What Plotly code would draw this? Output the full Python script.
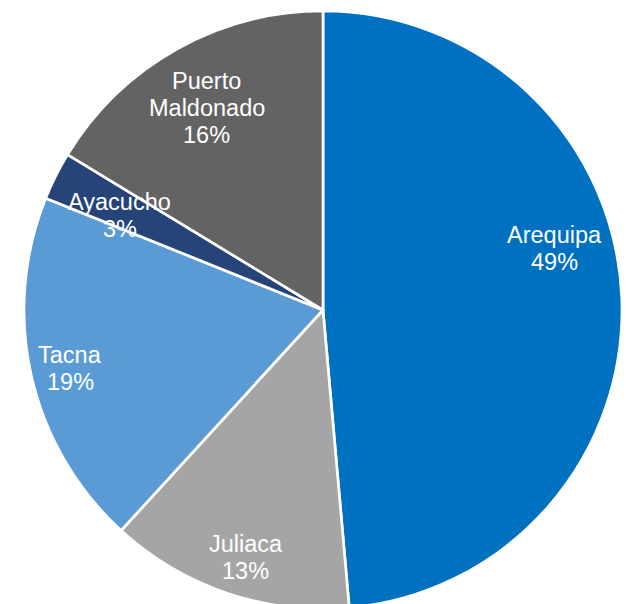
import math
import plotly.graph_objects as go

# Data
labels = ["Arequipa", "Juliaca", "Tacna", "Ayacucho", "Puerto Maldonado"]
label_lines = [["Arequipa"], ["Juliaca"], ["Tacna"], ["Ayacucho"], ["Puerto", "Maldonado"]]
values = [48.6, 13.2, 19.3, 2.6, 16.3]
colors = ["#0070C0", "#A5A5A5", "#5B9BD5", "#264478", "#636363"]

# label placement style (radius fraction, angle offset in degrees)
label_r = [0.80, 0.866, 0.868, 0.75, 0.78]
label_dtheta = [-12.4, -1.4, -0.3, -1.7, -0.5]

W, H = 631, 604
PAGE_OFF = 8  # default page body margin
R = 299
CX, CY = 323 - PAGE_OFF, 310 - PAGE_OFF  # pixel center within the figure

fig = go.Figure(go.Pie(
    labels=labels,
    values=values,
    sort=False,
    direction="clockwise",
    rotation=0,
    marker=dict(colors=colors, line=dict(color="white", width=2.7)),
    textinfo="none",
    hoverinfo="label+percent",
    showlegend=False,
    domain=dict(x=[(CX - R) / W, (CX + R) / W],
                y=[(H - CY - R) / H, (H - CY + R) / H]),
))

total = sum(values)
cum = 0
annotations = []
line_gap = 27
for lab_lines, v, rf, dth in zip(label_lines, values, label_r, label_dtheta):
    mid = (cum + v / 2) / total * 360 + dth
    cum += v
    th = math.radians(mid)
    px = CX + rf * R * math.sin(th)
    py = CY - rf * R * math.cos(th)
    lines = lab_lines + [f"{round(v / total * 100)}%"]
    n = len(lines)
    for i, t in enumerate(lines):
        ly = py + (i - (n - 1) / 2) * line_gap
        annotations.append(dict(
            x=px / W, y=1 - ly / H, xref="paper", yref="paper",
            text=t, showarrow=False, xanchor="center", yanchor="middle",
            font=dict(family="Liberation Sans, Arial, sans-serif", size=23.5, color="white"),
        ))

fig.update_layout(
    width=W, height=H,
    margin=dict(l=0, r=0, t=0, b=0),
    paper_bgcolor="white",
    plot_bgcolor="white",
    annotations=annotations,
)

fig.write_html("out.html")
